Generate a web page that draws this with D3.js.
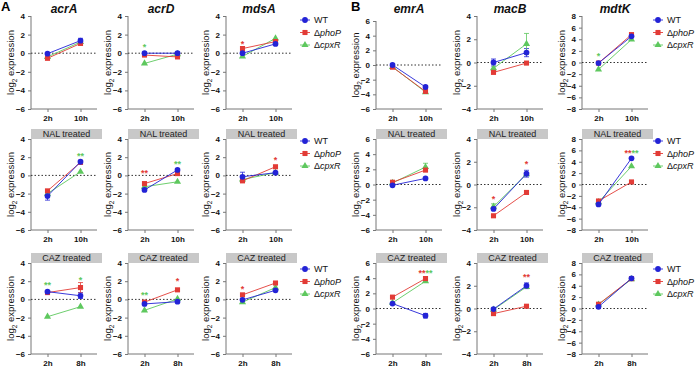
<!DOCTYPE html>
<html>
<head>
<meta charset="utf-8">
<script src="https://cdn.jsdelivr.net/npm/d3@7"></script>
<style>
  body { margin: 0; background: #fff; }
  svg { font-family: "Liberation Sans", Arial, sans-serif; }
</style>
</head>
<body>
<svg></svg>
<script>
// strains and time points
const strains = ['WT', 'phoP', 'cpxR'];
const timesLate = ['2h', '10h'];
const timesCaz = ['2h', '8h'];
const genesA = ['acrA', 'acrD', 'mdsA'];
const genesB = ['emrA', 'macB', 'mdtK'];
const conditions = ['', 'NAL treated', 'CAZ treated'];
const yMaxByGene = [4, 4, 4, 6, 4, 8];
const yMinByGene = [-6, -6, -6, -6, -4, -8];

// log2 expression, rows = WT, phoP, cpxR; cols = 2h, late
const acrA = [[-0.05, 1.35], [-0.55, 1.05], [-0.4, 1.2]];
const acrD = [[0, 0], [-0.2, -0.4], [-1.1, -0.1]];
const mdsA = [[0, 1.0], [0.5, 1.25], [-0.35, 1.6]];
const emrA = [[0, -3.0], [-0.3, -3.6], [-0.25, -3.7]];
const macB = [[0, 0.85], [-0.85, -0.05], [-0.5, 1.6]];
const mdtK = [[-0.1, 4.5], [-0.1, 4.8], [-1.2, 3.95]];

const acrA_NAL = [[-2.27, 1.5], [-1.7, 1.43], [-2.0, 0.4]];
const acrD_NAL = [[-1.6, 0.6], [-0.9, 0.2], [-1.25, -0.7]];
const mdsA_NAL = [[-0.15, 0.3], [-0.6, 0.95], [-0.45, 0.3]];
const emrA_NAL = [[-0.1, 0.8], [0.3, 1.9], [0.2, 2.3]];
const macB_NAL = [[-2.15, 0.95], [-2.75, -0.7], [-1.95, 0.9]];
const mdtK_NAL = [[-3.5, 4.6], [-2.9, 0.45], [-3.1, 3.2]];

const acrA_CAZ = [[0.85, 0.4], [0.75, 1.3], [-1.9, -0.8]];
const acrD_CAZ = [[-0.5, -0.25], [-0.3, 1.05], [-1.2, 0.05]];
const mdsA_CAZ = [[-0.05, 1.0], [0.5, 1.8], [-0.3, 1.3]];
const emrA_CAZ = [[0.65, -0.95], [1.5, 3.95], [0.75, 3.6]];
const macB_CAZ = [[-0.05, 2.0], [-0.45, 0.2], [-0.1, 1.9]];
const mdtK_CAZ = [[0.3, 5.3], [0.75, 5.25], [0.7, 5.15]];

// [panel, strain, time, sem]
const errorBars = [
  ['acrA', 0, 1, 0.25], ['emrA', 0, 1, 0.2],
  ['macB', 0, 0, 0.3], ['macB', 0, 1, 0.35], ['macB', 2, 1, 0.9],
  ['acrA_NAL', 0, 0, 0.45], ['mdsA_NAL', 0, 0, 0.5],
  ['emrA_NAL', 2, 1, 0.5], ['macB_NAL', 0, 1, 0.3], ['macB_NAL', 2, 0, 0.25],
  ['acrA_CAZ', 1, 1, 0.55], ['acrA_CAZ', 0, 1, 0.3],
  ['emrA_CAZ', 0, 1, 0.3], ['macB_CAZ', 0, 1, 0.25]
];

// [panel, time, y, [[text, strain], ...]]
const stars = [
  ['acrD', 0, 0.9, [['*', 2]]],
  ['mdsA', 0, 1.2, [['*', 1]]],
  ['mdtK', 0, 1.5, [['*', 2]]],
  ['acrA_NAL', 1, 2.4, [['**', 2]]],
  ['acrD_NAL', 0, 0.5, [['**', 1]]],
  ['acrD_NAL', 1, 1.5, [['**', 2]]],
  ['mdsA_NAL', 1, 1.95, [['*', 1]]],
  ['macB_NAL', 0, -1.1, [['*', 1]]],
  ['macB_NAL', 1, 2.0, [['*', 1]]],
  ['mdtK_NAL', 1, 6.0, [['**', 1], ['**', 2]]],
  ['acrA_CAZ', 0, 1.8, [['**', 2]]],
  ['acrA_CAZ', 1, 2.4, [['*', 2]]],
  ['acrD_CAZ', 0, 0.7, [['**', 2]]],
  ['acrD_CAZ', 1, 2.3, [['*', 1]]],
  ['mdsA_CAZ', 0, 1.4, [['*', 1]]],
  ['emrA_CAZ', 1, 5.0, [['**', 1], ['**', 2]]],
  ['macB_CAZ', 1, 3.0, [['**', 1]]]
];

const panelData = {
  acrA, acrD, mdsA, emrA, macB, mdtK,
  acrA_NAL, acrD_NAL, mdsA_NAL, emrA_NAL, macB_NAL, mdtK_NAL,
  acrA_CAZ, acrD_CAZ, mdsA_CAZ, emrA_CAZ, macB_CAZ, mdtK_CAZ
};

const colors = ['#2323d6', '#e23b36', '#5ec85e'];
const width = 696, height = 368;
const svg = d3.select('svg').attr('width', width).attr('height', height);

// layout
const colLeft = [31, 128, 226, 376, 477, 582];
const rowTop = [16, 139, 263];
const rowBottom = [109, 230, 354];
const axisLen = 66;
const suffix = ['', '_NAL', '_CAZ'];

const symbol = [d3.symbolCircle, d3.symbolSquare, d3.symbolTriangle];
const symSize = [26, 26, 22];

const allGenes = genesA.concat(genesB);

allGenes.forEach((gene, gi) => {
  conditions.forEach((cond, ri) => {
    const key = gene + suffix[ri];
    const vals = panelData[key];
    const times = ri === 2 ? timesCaz : timesLate;
    const x0 = colLeft[gi];
    const top = (gi === 3 && ri === 0) ? 21 : rowTop[ri];
    const x = d3.scalePoint().domain(times).range([0, axisLen]).padding(0.5);
    const y = d3.scaleLinear().domain([yMinByGene[gi], yMaxByGene[gi]]).range([rowBottom[ri], top]);

    const g = svg.append('g').attr('transform', `translate(${x0},0)`);

    // header box
    if (cond) {
      g.append('rect').attr('x', 0).attr('y', rowTop[ri] - 10).attr('width', 71).attr('height', 10)
        .attr('fill', '#c8c8c8');
      g.append('text').attr('x', 35.5).attr('y', rowTop[ri] - 2).attr('text-anchor', 'middle')
        .attr('font-size', 9).attr('fill', '#222').text(cond);
    }

    // axes
    const yAxis = d3.axisLeft(y).tickValues(d3.range(yMinByGene[gi], yMaxByGene[gi] + 1, 2))
      .tickSize(3).tickFormat(d3.format('d'));
    const ya = g.append('g').call(yAxis);
    const xa = g.append('g').attr('transform', `translate(0,${rowBottom[ri]})`)
      .call(d3.axisBottom(x).tickSize(3));
    [ya, xa].forEach(a => {
      a.select('.domain').attr('stroke', '#777').attr('stroke-width', 1);
      a.selectAll('.tick line').attr('stroke', '#777');
      a.selectAll('.tick text').attr('font-size', 8).attr('font-weight', 'bold')
        .attr('fill', '#111').style('font-family', '"Liberation Sans", Arial, sans-serif');
    });
    xa.select('.domain').attr('d', `M0,0H${axisLen}`);
    ya.select('.domain').attr('d', `M0,${y.range()[0]}V${y.range()[1]}`);

    // y label
    const lab = g.append('text')
      .attr('transform', `translate(-17,${(top + rowBottom[ri]) / 2}) rotate(-90)`)
      .attr('text-anchor', 'middle').attr('font-size', 9.5).attr('fill', '#111');
    lab.append('tspan').text('log');
    lab.append('tspan').attr('font-size', 6.5).attr('dy', 2.5).text('2');
    lab.append('tspan').attr('dy', -2.5).text(' expression');

    // zero line
    g.append('line').attr('x1', 0).attr('x2', axisLen).attr('y1', y(0)).attr('y2', y(0))
      .attr('stroke', '#333').attr('stroke-dasharray', '1.5,2').attr('stroke-width', 1);

    // error bars
    errorBars.filter(e => e[0] === key).forEach(([, si, ti, sem]) => {
      const cx = x(times[ti]), v = vals[si][ti];
      g.append('path')
        .attr('d', `M${cx},${y(v - sem)}V${y(v + sem)}M${cx - 2.5},${y(v - sem)}h5M${cx - 2.5},${y(v + sem)}h5`)
        .attr('stroke', colors[si]).attr('stroke-width', 0.8).attr('fill', 'none');
    });

    // lines and markers (cpxR first so WT ends on top)
    [2, 1, 0].forEach(si => {
      const line = d3.line().x((d, i) => x(times[i])).y(d => y(d));
      g.append('path').attr('d', line(vals[si])).attr('stroke', colors[si])
        .attr('stroke-width', 0.9).attr('fill', 'none');
      vals[si].forEach((v, ti) => {
        g.append('path').attr('d', d3.symbol(symbol[si], symSize[si])())
          .attr('transform', `translate(${x(times[ti])},${y(v)})`)
          .attr('fill', colors[si]);
      });
    });

    // significance stars
    stars.filter(s => s[0] === key).forEach(([, ti, yv, parts]) => {
      const t = g.append('text').attr('x', x(times[ti])).attr('y', y(yv)).attr('dy', '0.57em')
        .attr('text-anchor', 'middle').attr('font-size', 9).attr('font-weight', 'bold');
      parts.forEach(([txt, si]) => t.append('tspan').attr('fill', colors[si]).text(txt));
    });

    // gene title
    if (ri === 0) {
      g.append('text').attr('x', axisLen / 2).attr('y', 13).attr('text-anchor', 'middle')
        .attr('font-size', 12).attr('font-weight', 'bold').attr('font-style', 'italic')
        .attr('fill', '#111').text(gene);
    }
  });
});

// panel letters
svg.append('text').attr('x', 1).attr('y', 11).attr('font-size', 13).attr('font-weight', 'bold').text('A');
svg.append('text').attr('x', 351).attr('y', 11).attr('font-size', 13).attr('font-weight', 'bold').text('B');

// legends
const legendX = [300, 653];
const legendY = [20, 141, 269];
legendX.forEach(lx => {
  legendY.forEach(ly => {
    strains.forEach((s, si) => {
      const yy = ly + si * 12.5;
      const lg = svg.append('g').attr('transform', `translate(${lx},${yy})`);
      lg.append('line').attr('x1', 0).attr('x2', 10).attr('stroke', colors[si]).attr('stroke-width', 0.9);
      lg.append('path').attr('d', d3.symbol(symbol[si], symSize[si])()).attr('transform', 'translate(5,0)')
        .attr('fill', colors[si]);
      const t = lg.append('text').attr('x', 14).attr('dy', '0.35em').attr('font-size', 9).attr('fill', '#111');
      if (s === 'WT') t.text('WT');
      else {
        t.append('tspan').text('Δ');
        t.append('tspan').attr('font-style', 'italic').text(s);
      }
    });
  });
});
</script>
</body>
</html>
